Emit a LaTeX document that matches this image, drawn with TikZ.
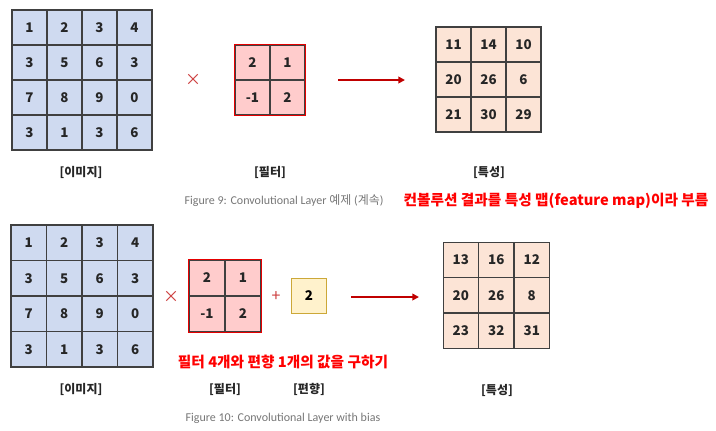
\documentclass[tikz,border=0pt]{standalone}
\usepackage{fontspec}
\setmainfont{Noto Sans CJK KR}
\newfontfamily\capfont{Carlito}
\newfontfamily\cjk{Noto Sans CJK KR}
\usepackage{tikz}
\usetikzlibrary{calc, fit, arrows.meta, positioning}
\definecolor{imgblue}{RGB}{207,218,240}
\definecolor{filtpink}{RGB}{255,204,204}
\definecolor{featpeach}{RGB}{252,228,214}
\definecolor{biasyellow}{RGB}{255,242,204}
\definecolor{biasgold}{RGB}{204,168,56}
\definecolor{gridgray}{RGB}{64,64,64}
\definecolor{arrowred}{RGB}{192,0,0}
\definecolor{opred}{RGB}{204,60,60}
\definecolor{capgray}{RGB}{118,118,118}
\tikzstyle{cell}     = [rectangle, draw=gridgray, line width=0.8pt, minimum size=26.25pt, inner sep=0pt, font=\fontsize{10}{12}\selectfont\bfseries, text=black!85]
\tikzstyle{imgcell}  = [cell, fill=imgblue]
\tikzstyle{filtcell} = [cell, fill=filtpink]
\tikzstyle{featcell} = [cell, fill=featpeach]
\tikzstyle{biasbox}  = [rectangle, draw=biasgold, line width=1.2pt, fill=biasyellow, minimum size=26.5pt, inner sep=0pt, font=\fontsize{10}{12}\selectfont\bfseries]
\tikzstyle{redframe} = [draw=red!90!black, line width=1.2pt, rectangle, inner sep=0pt]
\tikzstyle{tag}      = [font=\fontsize{9}{11}\selectfont\bfseries, text=black!85]
\tikzstyle{note}     = [font=\fontsize{11}{13}\selectfont\bfseries, text=red]
\tikzstyle{caption}  = [font=\capfont\fontsize{9}{11}\selectfont, text=capgray]
\tikzstyle{op}       = [font=\fontsize{12}{12}\selectfont, text=opred]
\tikzstyle{arrow}    = [line width=1.5pt, arrowred, -{Triangle[length=5pt, width=5pt]}]

\begin{document}
\begin{tikzpicture}[x=0.75pt, y=-0.75pt]
    \useasboundingbox (0,0) rectangle (716,430);

    % Figure 9
    \foreach \row [count=\r] in {{1,2,3,4},{3,5,6,3},{7,8,9,0},{3,1,3,6}}
      \foreach \v [count=\c] in \row
        \node (imgA-\r-\c) [imgcell] at ({12+17.5+35*(\c-1)}, {10+17.5+35*(\r-1)}) {\v};
    \foreach \row [count=\r] in {{2,1},{-1,2}}
      \foreach \v [count=\c] in \row
        \node (filtA-\r-\c) [filtcell] at ({235+17.5+35*(\c-1)}, {45+17.5+35*(\r-1)}) {\v};
    \node (filtA) [redframe, fit={(filtA-1-1) (filtA-2-2)}] {};
    \foreach \row [count=\r] in {{11,14,10},{20,26,6},{21,30,29}}
      \foreach \v [count=\c] in \row
        \node (featA-\r-\c) [featcell] at ({436+17.5+35*(\c-1)}, {27+17.5+35*(\r-1)}) {\v};

    \node (timesA) [op] at (193,80) {×};
    \coordinate (arrA-s) at (338,80);
    \coordinate (arrA-e) at (405,80);
    \draw [arrow] (arrA-s) -- (arrA-e);

    \node (imgA-tag)  [tag] at (81,172)  {[이미지]};
    \node (filtA-tag) [tag] at (270,172) {[필터]};
    \node (featA-tag) [tag] at (489,172) {[특성]};
    \node (capA)  [caption, anchor=west] at (180,201) {Figure 9: Convolutional Layer {\cjk 예제} ({\cjk 계속})};
    \node (noteA) [note] at (556,201) {컨볼루션 결과를 특성 맵(feature map)이라 부름};

    % Figure 10
    \foreach \row [count=\r] in {{1,2,3,4},{3,5,6,3},{7,8,9,0},{3,1,3,6}}
      \foreach \v [count=\c] in \row
        \node (imgB-\r-\c) [imgcell, minimum size=26.6pt] at ({11+17.75+35.5*(\c-1)}, {225+17.75+35.5*(\r-1)}) {\v};
    \foreach \row [count=\r] in {{2,1},{-1,2}}
      \foreach \v [count=\c] in \row
        \node (filtB-\r-\c) [filtcell, minimum size=27pt] at ({189+18+36*(\c-1)}, {260+18+36*(\r-1)}) {\v};
    \node (filtB) [redframe, fit={(filtB-1-1) (filtB-2-2)}] {};
    \node (bias) [biasbox] at (309,296) {2};
    \foreach \row [count=\r] in {{13,16,12},{20,26,8},{23,32,31}}
      \foreach \v [count=\c] in \row
        \node (featB-\r-\c) [featcell] at ({443+17.75+35.5*(\c-1)}, {242+17.75+35.5*(\r-1)}) {\v};

    \node (timesB) [op] at (171,297) {×};
    \node (plusB)  [op] at (276,297) {+};
    \coordinate (arrB-s) at (351,297);
    \coordinate (arrB-e) at (419,297);
    \draw [arrow] (arrB-s) -- (arrB-e);

    \node (noteB) [note] at (283,362) {필터 4개와 편향 1개의 값을 구하기};
    \node (imgB-tag)  [tag] at (81,389)  {[이미지]};
    \node (filtB-tag) [tag] at (225,389) {[필터]};
    \node (bias-tag)  [tag] at (309,389) {[편향]};
    \node (featB-tag) [tag] at (497,390) {[특성]};
    \node (capB) [caption, anchor=west] at (181,418) {Figure 10: Convolutional Layer with bias};

  \end{tikzpicture}
\end{document}
